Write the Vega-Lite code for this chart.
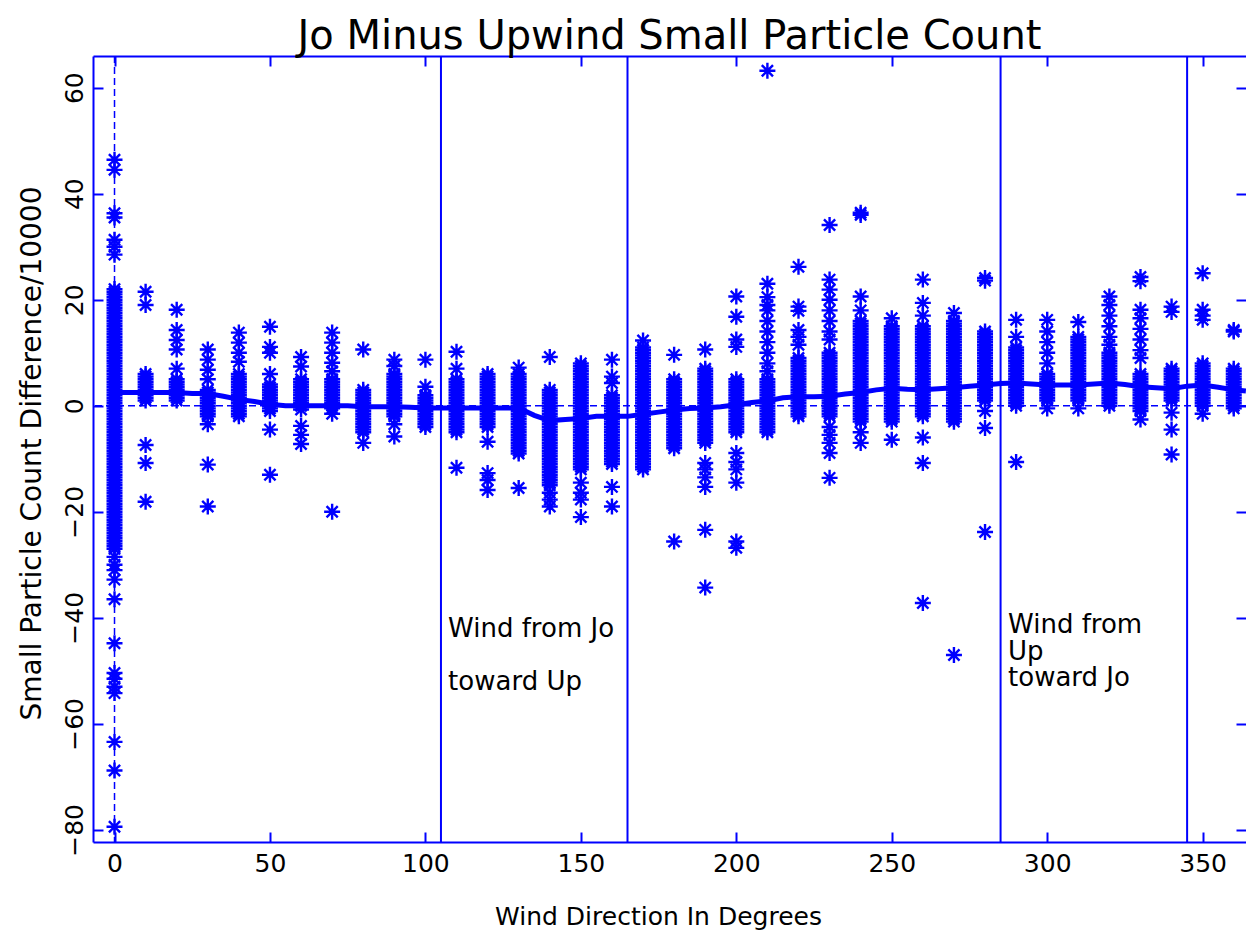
{
"$schema": "https://vega.github.io/schema/vega-lite/v6.json",
"width": 1153, "height": 786,
"autosize": {"type": "none"},
"padding": {"left": 93, "top": 56, "right": 0, "bottom": 90},
"background": "white",
"title": {"text": "Jo Minus Upwind Small Particle Count", "font": "DejaVu Sans", "fontSize": 40, "fontWeight": "normal", "color": "black", "offset": -2, "anchor": "middle"},
"config": {"view": {"stroke": null}, "axis": {"grid": false}},
"resolve": {"axis": {"x": "independent", "y": "independent"}},
"datasets": {
"pts": [
{"d":0,"v":22},{"d":0,"v":21},{"d":0,"v":20},{"d":0,"v":19},{"d":0,"v":18},{"d":0,"v":17},{"d":0,"v":16},{"d":0,"v":15},{"d":0,"v":14},{"d":0,"v":13},{"d":0,"v":12},{"d":0,"v":11},{"d":0,"v":10},{"d":0,"v":9},{"d":0,"v":8},{"d":0,"v":7},{"d":0,"v":6},{"d":0,"v":5},{"d":0,"v":4},{"d":0,"v":3},{"d":0,"v":2},{"d":0,"v":1},{"d":0,"v":0},{"d":0,"v":-1},{"d":0,"v":-2},{"d":0,"v":-3},{"d":0,"v":-4},{"d":0,"v":-5},{"d":0,"v":-6},{"d":0,"v":-7},{"d":0,"v":-8},{"d":0,"v":-9},{"d":0,"v":-10},{"d":0,"v":-11},{"d":0,"v":-12},{"d":0,"v":-13},{"d":0,"v":-14},{"d":0,"v":-15},{"d":0,"v":-16},{"d":0,"v":-17},{"d":0,"v":-18},{"d":0,"v":-19},{"d":0,"v":-20},{"d":0,"v":-21},{"d":0,"v":-22},{"d":0,"v":-23},{"d":0,"v":-24},{"d":0,"v":-25},{"d":0,"v":-26},{"d":0,"v":-27},
{"d":0,"v":46.4},{"d":0,"v":44.5},{"d":0,"v":36.3},{"d":0,"v":35.5},{"d":0,"v":31.3},{"d":0,"v":30},{"d":0,"v":28.5},{"d":0,"v":-28.5},{"d":0,"v":-30},{"d":0,"v":-31},{"d":0,"v":-32.8},{"d":0,"v":-36.5},{"d":0,"v":-44.8},{"d":0,"v":-50.4},{"d":0,"v":-51.5},{"d":0,"v":-53},{"d":0,"v":-54.2},{"d":0,"v":-63.4},{"d":0,"v":-68.8},{"d":0,"v":-79.4},
{"d":10,"v":6},{"d":10,"v":5},{"d":10,"v":4},{"d":10,"v":3},{"d":10,"v":2},{"d":10,"v":1},{"d":10,"v":21.5},{"d":10,"v":19},{"d":10,"v":-7.4},{"d":10,"v":-10.8},{"d":10,"v":-18.1},
{"d":20,"v":5},{"d":20,"v":4},{"d":20,"v":3},{"d":20,"v":2},{"d":20,"v":1},{"d":20,"v":18.1},{"d":20,"v":14.3},{"d":20,"v":12.4},{"d":20,"v":10.6},{"d":20,"v":7},
{"d":30,"v":3},{"d":30,"v":2},{"d":30,"v":1},{"d":30,"v":0},{"d":30,"v":-1},{"d":30,"v":-2},{"d":30,"v":10.6},{"d":30,"v":8.7},{"d":30,"v":6.8},{"d":30,"v":5},{"d":30,"v":-3.5},{"d":30,"v":-11.1},{"d":30,"v":-19},
{"d":40,"v":6},{"d":40,"v":5},{"d":40,"v":4},{"d":40,"v":3},{"d":40,"v":2},{"d":40,"v":1},{"d":40,"v":0},{"d":40,"v":-1},{"d":40,"v":-2},{"d":40,"v":13.8},{"d":40,"v":11.9},{"d":40,"v":10},{"d":40,"v":8.3},
{"d":50,"v":4},{"d":50,"v":3},{"d":50,"v":2},{"d":50,"v":1},{"d":50,"v":0},{"d":50,"v":-1},{"d":50,"v":14.9},{"d":50,"v":11.1},{"d":50,"v":10},{"d":50,"v":6},{"d":50,"v":-4.5},{"d":50,"v":-13},
{"d":60,"v":5},{"d":60,"v":4},{"d":60,"v":3},{"d":60,"v":2},{"d":60,"v":1},{"d":60,"v":0},{"d":60,"v":-0.7},{"d":60,"v":9.2},{"d":60,"v":7.4},{"d":60,"v":-3.8},{"d":60,"v":-5.5},{"d":60,"v":-7.2},
{"d":70,"v":5},{"d":70,"v":4},{"d":70,"v":3},{"d":70,"v":2},{"d":70,"v":1},{"d":70,"v":0},{"d":70,"v":-1.5},{"d":70,"v":13.8},{"d":70,"v":11.9},{"d":70,"v":10},{"d":70,"v":8.1},{"d":70,"v":6.5},{"d":70,"v":-20},
{"d":80,"v":3},{"d":80,"v":2},{"d":80,"v":1},{"d":80,"v":0},{"d":80,"v":-1},{"d":80,"v":-2},{"d":80,"v":-3},{"d":80,"v":-4},{"d":80,"v":-5},{"d":80,"v":10.6},{"d":80,"v":-7},
{"d":90,"v":6},{"d":90,"v":5},{"d":90,"v":4},{"d":90,"v":3},{"d":90,"v":2},{"d":90,"v":1},{"d":90,"v":0},{"d":90,"v":-1},{"d":90,"v":-2},{"d":90,"v":-3.5},{"d":90,"v":8.7},{"d":90,"v":7.5},{"d":90,"v":-5.8},
{"d":100,"v":2},{"d":100,"v":1},{"d":100,"v":0},{"d":100,"v":-1},{"d":100,"v":-2},{"d":100,"v":-3},{"d":100,"v":-4},{"d":100,"v":8.7},{"d":100,"v":3.6},
{"d":110,"v":5},{"d":110,"v":4},{"d":110,"v":3},{"d":110,"v":2},{"d":110,"v":1},{"d":110,"v":0},{"d":110,"v":-1},{"d":110,"v":-2},{"d":110,"v":-3},{"d":110,"v":-4},{"d":110,"v":-5},{"d":110,"v":10.2},{"d":110,"v":7},{"d":110,"v":-11.7},
{"d":120,"v":6},{"d":120,"v":5},{"d":120,"v":4},{"d":120,"v":3},{"d":120,"v":2},{"d":120,"v":1},{"d":120,"v":0},{"d":120,"v":-1},{"d":120,"v":-2},{"d":120,"v":-3},{"d":120,"v":-4},{"d":120,"v":-6.8},{"d":120,"v":-12.7},{"d":120,"v":-14},{"d":120,"v":-15.9},
{"d":130,"v":6},{"d":130,"v":5},{"d":130,"v":4},{"d":130,"v":3},{"d":130,"v":2},{"d":130,"v":1},{"d":130,"v":0},{"d":130,"v":-1},{"d":130,"v":-2},{"d":130,"v":-3},{"d":130,"v":-4},{"d":130,"v":-5},{"d":130,"v":-6},{"d":130,"v":-7},{"d":130,"v":-8},{"d":130,"v":-9},{"d":130,"v":7.2},{"d":130,"v":-15.5},
{"d":140,"v":3},{"d":140,"v":2},{"d":140,"v":1},{"d":140,"v":0},{"d":140,"v":-1},{"d":140,"v":-2},{"d":140,"v":-3},{"d":140,"v":-4},{"d":140,"v":-5},{"d":140,"v":-6},{"d":140,"v":-7},{"d":140,"v":-8},{"d":140,"v":-9},{"d":140,"v":-10},{"d":140,"v":-11},{"d":140,"v":-12},{"d":140,"v":-13},{"d":140,"v":-14},{"d":140,"v":-15},{"d":140,"v":9.2},{"d":140,"v":-16.4},{"d":140,"v":-17.7},{"d":140,"v":-19},
{"d":150,"v":8},{"d":150,"v":7},{"d":150,"v":6},{"d":150,"v":5},{"d":150,"v":4},{"d":150,"v":3},{"d":150,"v":2},{"d":150,"v":1},{"d":150,"v":0},{"d":150,"v":-1},{"d":150,"v":-2},{"d":150,"v":-3},{"d":150,"v":-4},{"d":150,"v":-5},{"d":150,"v":-6},{"d":150,"v":-7},{"d":150,"v":-8},{"d":150,"v":-9},{"d":150,"v":-10},{"d":150,"v":-11},{"d":150,"v":-12},{"d":150,"v":-14.5},{"d":150,"v":-16.4},{"d":150,"v":-17.7},{"d":150,"v":-21},
{"d":160,"v":2},{"d":160,"v":1},{"d":160,"v":0},{"d":160,"v":-1},{"d":160,"v":-2},{"d":160,"v":-3},{"d":160,"v":-4},{"d":160,"v":-5},{"d":160,"v":-6},{"d":160,"v":-7},{"d":160,"v":-8},{"d":160,"v":-9},{"d":160,"v":-10},{"d":160,"v":-11},{"d":160,"v":8.7},{"d":160,"v":5.5},{"d":160,"v":4.3},{"d":160,"v":-15.3},{"d":160,"v":-19},
{"d":170,"v":11},{"d":170,"v":10},{"d":170,"v":9},{"d":170,"v":8},{"d":170,"v":7},{"d":170,"v":6},{"d":170,"v":5},{"d":170,"v":4},{"d":170,"v":3},{"d":170,"v":2},{"d":170,"v":1},{"d":170,"v":0},{"d":170,"v":-1},{"d":170,"v":-2},{"d":170,"v":-3},{"d":170,"v":-4},{"d":170,"v":-5},{"d":170,"v":-6},{"d":170,"v":-7},{"d":170,"v":-8},{"d":170,"v":-9},{"d":170,"v":-10},{"d":170,"v":-11},{"d":170,"v":-12},{"d":170,"v":12.3},
{"d":180,"v":5},{"d":180,"v":4},{"d":180,"v":3},{"d":180,"v":2},{"d":180,"v":1},{"d":180,"v":0},{"d":180,"v":-1},{"d":180,"v":-2},{"d":180,"v":-3},{"d":180,"v":-4},{"d":180,"v":-5},{"d":180,"v":-6},{"d":180,"v":-7},{"d":180,"v":-8},{"d":180,"v":9.6},{"d":180,"v":-25.6},
{"d":190,"v":7},{"d":190,"v":6},{"d":190,"v":5},{"d":190,"v":4},{"d":190,"v":3},{"d":190,"v":2},{"d":190,"v":1},{"d":190,"v":0},{"d":190,"v":-1},{"d":190,"v":-2},{"d":190,"v":-3},{"d":190,"v":-4},{"d":190,"v":-5},{"d":190,"v":-6},{"d":190,"v":-7},{"d":190,"v":10.6},{"d":190,"v":-10.8},{"d":190,"v":-12},{"d":190,"v":-13.5},{"d":190,"v":-15.3},{"d":190,"v":-23.4},{"d":190,"v":-34.3},
{"d":200,"v":5},{"d":200,"v":4},{"d":200,"v":3},{"d":200,"v":2},{"d":200,"v":1},{"d":200,"v":0},{"d":200,"v":-1},{"d":200,"v":-2},{"d":200,"v":-3},{"d":200,"v":-4},{"d":200,"v":-5},{"d":200,"v":20.6},{"d":200,"v":16.8},{"d":200,"v":12.5},{"d":200,"v":11.1},{"d":200,"v":-8.9},{"d":200,"v":-10.6},{"d":200,"v":-12},{"d":200,"v":-14.5},{"d":200,"v":-25.6},{"d":200,"v":-26.8},
{"d":210,"v":5},{"d":210,"v":4},{"d":210,"v":3},{"d":210,"v":2},{"d":210,"v":1},{"d":210,"v":0},{"d":210,"v":-1},{"d":210,"v":-2},{"d":210,"v":-3},{"d":210,"v":-4},{"d":210,"v":-5},{"d":210,"v":63.2},{"d":210,"v":23},{"d":210,"v":20.5},{"d":210,"v":19},{"d":210,"v":18},{"d":210,"v":16},{"d":210,"v":14},{"d":210,"v":12},{"d":210,"v":10},{"d":210,"v":8},{"d":210,"v":6.5},
{"d":220,"v":9},{"d":220,"v":8},{"d":220,"v":7},{"d":220,"v":6},{"d":220,"v":5},{"d":220,"v":4},{"d":220,"v":3},{"d":220,"v":2},{"d":220,"v":1},{"d":220,"v":0},{"d":220,"v":-1},{"d":220,"v":-2},{"d":220,"v":26.2},{"d":220,"v":18.7},{"d":220,"v":17.9},{"d":220,"v":14.3},{"d":220,"v":13},{"d":220,"v":11.5},
{"d":230,"v":10},{"d":230,"v":9},{"d":230,"v":8},{"d":230,"v":7},{"d":230,"v":6},{"d":230,"v":5},{"d":230,"v":4},{"d":230,"v":3},{"d":230,"v":2},{"d":230,"v":1},{"d":230,"v":0},{"d":230,"v":-1},{"d":230,"v":-2},{"d":230,"v":34.1},{"d":230,"v":23.8},{"d":230,"v":21.9},{"d":230,"v":20},{"d":230,"v":18},{"d":230,"v":16},{"d":230,"v":14},{"d":230,"v":12.5},{"d":230,"v":-4},{"d":230,"v":-5.5},{"d":230,"v":-7},{"d":230,"v":-8.9},{"d":230,"v":-13.6},
{"d":240,"v":16},{"d":240,"v":15},{"d":240,"v":14},{"d":240,"v":13},{"d":240,"v":12},{"d":240,"v":11},{"d":240,"v":10},{"d":240,"v":9},{"d":240,"v":8},{"d":240,"v":7},{"d":240,"v":6},{"d":240,"v":5},{"d":240,"v":4},{"d":240,"v":3},{"d":240,"v":2},{"d":240,"v":1},{"d":240,"v":0},{"d":240,"v":-1},{"d":240,"v":-2},{"d":240,"v":-3},{"d":240,"v":36.4},{"d":240,"v":36},{"d":240,"v":20.6},{"d":240,"v":18},{"d":240,"v":-5},{"d":240,"v":-7},
{"d":250,"v":15},{"d":250,"v":14},{"d":250,"v":13},{"d":250,"v":12},{"d":250,"v":11},{"d":250,"v":10},{"d":250,"v":9},{"d":250,"v":8},{"d":250,"v":7},{"d":250,"v":6},{"d":250,"v":5},{"d":250,"v":4},{"d":250,"v":3},{"d":250,"v":2},{"d":250,"v":1},{"d":250,"v":0},{"d":250,"v":-1},{"d":250,"v":-2},{"d":250,"v":-3},{"d":250,"v":16.5},{"d":250,"v":-6.4},
{"d":260,"v":15},{"d":260,"v":14},{"d":260,"v":13},{"d":260,"v":12},{"d":260,"v":11},{"d":260,"v":10},{"d":260,"v":9},{"d":260,"v":8},{"d":260,"v":7},{"d":260,"v":6},{"d":260,"v":5},{"d":260,"v":4},{"d":260,"v":3},{"d":260,"v":2},{"d":260,"v":1},{"d":260,"v":0},{"d":260,"v":-1},{"d":260,"v":-2},{"d":260,"v":23.8},{"d":260,"v":19.4},{"d":260,"v":17},{"d":260,"v":-6},{"d":260,"v":-10.8},{"d":260,"v":-37.2},
{"d":270,"v":16},{"d":270,"v":15},{"d":270,"v":14},{"d":270,"v":13},{"d":270,"v":12},{"d":270,"v":11},{"d":270,"v":10},{"d":270,"v":9},{"d":270,"v":8},{"d":270,"v":7},{"d":270,"v":6},{"d":270,"v":5},{"d":270,"v":4},{"d":270,"v":3},{"d":270,"v":2},{"d":270,"v":1},{"d":270,"v":0},{"d":270,"v":-1},{"d":270,"v":-2},{"d":270,"v":-3},{"d":270,"v":17.5},{"d":270,"v":-47},
{"d":280,"v":14},{"d":280,"v":13},{"d":280,"v":12},{"d":280,"v":11},{"d":280,"v":10},{"d":280,"v":9},{"d":280,"v":8},{"d":280,"v":7},{"d":280,"v":6},{"d":280,"v":5},{"d":280,"v":4},{"d":280,"v":3},{"d":280,"v":2},{"d":280,"v":1},{"d":280,"v":24.1},{"d":280,"v":23.6},{"d":280,"v":-1},{"d":280,"v":-4.2},{"d":280,"v":-23.8},
{"d":290,"v":11},{"d":290,"v":10},{"d":290,"v":9},{"d":290,"v":8},{"d":290,"v":7},{"d":290,"v":6},{"d":290,"v":5},{"d":290,"v":4},{"d":290,"v":3},{"d":290,"v":2},{"d":290,"v":1},{"d":290,"v":0},{"d":290,"v":16.2},{"d":290,"v":13},{"d":290,"v":-10.6},
{"d":300,"v":6},{"d":300,"v":5},{"d":300,"v":4},{"d":300,"v":3},{"d":300,"v":2},{"d":300,"v":1},{"d":300,"v":16.2},{"d":300,"v":14},{"d":300,"v":12},{"d":300,"v":10},{"d":300,"v":8},{"d":300,"v":-0.5},
{"d":310,"v":13},{"d":310,"v":12},{"d":310,"v":11},{"d":310,"v":10},{"d":310,"v":9},{"d":310,"v":8},{"d":310,"v":7},{"d":310,"v":6},{"d":310,"v":5},{"d":310,"v":4},{"d":310,"v":3},{"d":310,"v":2},{"d":310,"v":1},{"d":310,"v":15.8},{"d":310,"v":-0.5},
{"d":320,"v":10},{"d":320,"v":9},{"d":320,"v":8},{"d":320,"v":7},{"d":320,"v":6},{"d":320,"v":5},{"d":320,"v":4},{"d":320,"v":3},{"d":320,"v":2},{"d":320,"v":1},{"d":320,"v":0},{"d":320,"v":20.6},{"d":320,"v":19},{"d":320,"v":17},{"d":320,"v":15},{"d":320,"v":13},{"d":320,"v":11.5},
{"d":330,"v":6},{"d":330,"v":5},{"d":330,"v":4},{"d":330,"v":3},{"d":330,"v":2},{"d":330,"v":1},{"d":330,"v":0},{"d":330,"v":-1},{"d":330,"v":24.3},{"d":330,"v":23.5},{"d":330,"v":18.1},{"d":330,"v":16.5},{"d":330,"v":14.5},{"d":330,"v":12.5},{"d":330,"v":10.5},{"d":330,"v":9},{"d":330,"v":-2.6},
{"d":340,"v":7},{"d":340,"v":6},{"d":340,"v":5},{"d":340,"v":4},{"d":340,"v":3},{"d":340,"v":2},{"d":340,"v":1},{"d":340,"v":18.7},{"d":340,"v":17.7},{"d":340,"v":-1.3},{"d":340,"v":-4.5},{"d":340,"v":-9.2},
{"d":350,"v":8},{"d":350,"v":7},{"d":350,"v":6},{"d":350,"v":5},{"d":350,"v":4},{"d":350,"v":3},{"d":350,"v":2},{"d":350,"v":1},{"d":350,"v":0},{"d":350,"v":25},{"d":350,"v":18.1},{"d":350,"v":17},{"d":350,"v":16.2},{"d":350,"v":-1.5},
{"d":360,"v":7},{"d":360,"v":6},{"d":360,"v":5},{"d":360,"v":4},{"d":360,"v":3},{"d":360,"v":2},{"d":360,"v":1},{"d":360,"v":0},{"d":360,"v":14.3},{"d":360,"v":14},{"d":360,"v":-0.5},
{"d":0,"v":21.5},{"d":0,"v":20.5},{"d":0,"v":19.5},{"d":0,"v":18.5},{"d":0,"v":17.5},{"d":0,"v":16.5},{"d":0,"v":15.5},{"d":0,"v":14.5},{"d":0,"v":13.5},{"d":0,"v":12.5},{"d":0,"v":11.5},{"d":0,"v":10.5},{"d":0,"v":9.5},{"d":0,"v":8.5},{"d":0,"v":7.5},{"d":0,"v":6.5},{"d":0,"v":5.5},{"d":0,"v":4.5},{"d":0,"v":3.5},{"d":0,"v":2.5},{"d":0,"v":1.5},{"d":0,"v":0.5},{"d":0,"v":-0.5},{"d":0,"v":-1.5},{"d":0,"v":-2.5},{"d":0,"v":-3.5},{"d":0,"v":-4.5},{"d":0,"v":-5.5},{"d":0,"v":-6.5},{"d":0,"v":-7.5},{"d":0,"v":-8.5},{"d":0,"v":-9.5},{"d":0,"v":-10.5},{"d":0,"v":-11.5},{"d":0,"v":-12.5},{"d":0,"v":-13.5},{"d":0,"v":-14.5},{"d":0,"v":-15.5},{"d":0,"v":-16.5},{"d":0,"v":-17.5},{"d":0,"v":-18.5},{"d":0,"v":-19.5},{"d":0,"v":-20.5},{"d":0,"v":-21.5},{"d":0,"v":-22.5},{"d":0,"v":-23.5},{"d":0,"v":-24.5},{"d":0,"v":-25.5},{"d":0,"v":-26.5},
{"d":10,"v":5.5},{"d":10,"v":4.5},{"d":10,"v":3.5},{"d":10,"v":2.5},{"d":10,"v":1.5},
{"d":20,"v":4.5},{"d":20,"v":3.5},{"d":20,"v":2.5},{"d":20,"v":1.5},
{"d":30,"v":2.5},{"d":30,"v":1.5},{"d":30,"v":0.5},{"d":30,"v":-0.5},{"d":30,"v":-1.5},
{"d":40,"v":5.5},{"d":40,"v":4.5},{"d":40,"v":3.5},{"d":40,"v":2.5},{"d":40,"v":1.5},{"d":40,"v":0.5},{"d":40,"v":-0.5},{"d":40,"v":-1.5},
{"d":50,"v":3.5},{"d":50,"v":2.5},{"d":50,"v":1.5},{"d":50,"v":0.5},{"d":50,"v":-0.5},
{"d":60,"v":4.5},{"d":60,"v":3.5},{"d":60,"v":2.5},{"d":60,"v":1.5},{"d":60,"v":0.5},
{"d":70,"v":4.5},{"d":70,"v":3.5},{"d":70,"v":2.5},{"d":70,"v":1.5},{"d":70,"v":0.5},{"d":70,"v":-0.5},
{"d":80,"v":2.5},{"d":80,"v":1.5},{"d":80,"v":0.5},{"d":80,"v":-0.5},{"d":80,"v":-1.5},{"d":80,"v":-2.5},{"d":80,"v":-3.5},{"d":80,"v":-4.5},
{"d":90,"v":5.5},{"d":90,"v":4.5},{"d":90,"v":3.5},{"d":90,"v":2.5},{"d":90,"v":1.5},{"d":90,"v":0.5},{"d":90,"v":-0.5},{"d":90,"v":-1.5},
{"d":100,"v":1.5},{"d":100,"v":0.5},{"d":100,"v":-0.5},{"d":100,"v":-1.5},{"d":100,"v":-2.5},{"d":100,"v":-3.5},
{"d":110,"v":4.5},{"d":110,"v":3.5},{"d":110,"v":2.5},{"d":110,"v":1.5},{"d":110,"v":0.5},{"d":110,"v":-0.5},{"d":110,"v":-1.5},{"d":110,"v":-2.5},{"d":110,"v":-3.5},{"d":110,"v":-4.5},
{"d":120,"v":5.5},{"d":120,"v":4.5},{"d":120,"v":3.5},{"d":120,"v":2.5},{"d":120,"v":1.5},{"d":120,"v":0.5},{"d":120,"v":-0.5},{"d":120,"v":-1.5},{"d":120,"v":-2.5},{"d":120,"v":-3.5},
{"d":130,"v":5.5},{"d":130,"v":4.5},{"d":130,"v":3.5},{"d":130,"v":2.5},{"d":130,"v":1.5},{"d":130,"v":0.5},{"d":130,"v":-0.5},{"d":130,"v":-1.5},{"d":130,"v":-2.5},{"d":130,"v":-3.5},{"d":130,"v":-4.5},{"d":130,"v":-5.5},{"d":130,"v":-6.5},{"d":130,"v":-7.5},{"d":130,"v":-8.5},
{"d":140,"v":2.5},{"d":140,"v":1.5},{"d":140,"v":0.5},{"d":140,"v":-0.5},{"d":140,"v":-1.5},{"d":140,"v":-2.5},{"d":140,"v":-3.5},{"d":140,"v":-4.5},{"d":140,"v":-5.5},{"d":140,"v":-6.5},{"d":140,"v":-7.5},{"d":140,"v":-8.5},{"d":140,"v":-9.5},{"d":140,"v":-10.5},{"d":140,"v":-11.5},{"d":140,"v":-12.5},{"d":140,"v":-13.5},{"d":140,"v":-14.5},
{"d":150,"v":7.5},{"d":150,"v":6.5},{"d":150,"v":5.5},{"d":150,"v":4.5},{"d":150,"v":3.5},{"d":150,"v":2.5},{"d":150,"v":1.5},{"d":150,"v":0.5},{"d":150,"v":-0.5},{"d":150,"v":-1.5},{"d":150,"v":-2.5},{"d":150,"v":-3.5},{"d":150,"v":-4.5},{"d":150,"v":-5.5},{"d":150,"v":-6.5},{"d":150,"v":-7.5},{"d":150,"v":-8.5},{"d":150,"v":-9.5},{"d":150,"v":-10.5},{"d":150,"v":-11.5},
{"d":160,"v":1.5},{"d":160,"v":0.5},{"d":160,"v":-0.5},{"d":160,"v":-1.5},{"d":160,"v":-2.5},{"d":160,"v":-3.5},{"d":160,"v":-4.5},{"d":160,"v":-5.5},{"d":160,"v":-6.5},{"d":160,"v":-7.5},{"d":160,"v":-8.5},{"d":160,"v":-9.5},{"d":160,"v":-10.5},
{"d":170,"v":10.5},{"d":170,"v":9.5},{"d":170,"v":8.5},{"d":170,"v":7.5},{"d":170,"v":6.5},{"d":170,"v":5.5},{"d":170,"v":4.5},{"d":170,"v":3.5},{"d":170,"v":2.5},{"d":170,"v":1.5},{"d":170,"v":0.5},{"d":170,"v":-0.5},{"d":170,"v":-1.5},{"d":170,"v":-2.5},{"d":170,"v":-3.5},{"d":170,"v":-4.5},{"d":170,"v":-5.5},{"d":170,"v":-6.5},{"d":170,"v":-7.5},{"d":170,"v":-8.5},{"d":170,"v":-9.5},{"d":170,"v":-10.5},{"d":170,"v":-11.5},
{"d":180,"v":4.5},{"d":180,"v":3.5},{"d":180,"v":2.5},{"d":180,"v":1.5},{"d":180,"v":0.5},{"d":180,"v":-0.5},{"d":180,"v":-1.5},{"d":180,"v":-2.5},{"d":180,"v":-3.5},{"d":180,"v":-4.5},{"d":180,"v":-5.5},{"d":180,"v":-6.5},{"d":180,"v":-7.5},
{"d":190,"v":6.5},{"d":190,"v":5.5},{"d":190,"v":4.5},{"d":190,"v":3.5},{"d":190,"v":2.5},{"d":190,"v":1.5},{"d":190,"v":0.5},{"d":190,"v":-0.5},{"d":190,"v":-1.5},{"d":190,"v":-2.5},{"d":190,"v":-3.5},{"d":190,"v":-4.5},{"d":190,"v":-5.5},{"d":190,"v":-6.5},
{"d":200,"v":4.5},{"d":200,"v":3.5},{"d":200,"v":2.5},{"d":200,"v":1.5},{"d":200,"v":0.5},{"d":200,"v":-0.5},{"d":200,"v":-1.5},{"d":200,"v":-2.5},{"d":200,"v":-3.5},{"d":200,"v":-4.5},
{"d":210,"v":4.5},{"d":210,"v":3.5},{"d":210,"v":2.5},{"d":210,"v":1.5},{"d":210,"v":0.5},{"d":210,"v":-0.5},{"d":210,"v":-1.5},{"d":210,"v":-2.5},{"d":210,"v":-3.5},{"d":210,"v":-4.5},
{"d":220,"v":8.5},{"d":220,"v":7.5},{"d":220,"v":6.5},{"d":220,"v":5.5},{"d":220,"v":4.5},{"d":220,"v":3.5},{"d":220,"v":2.5},{"d":220,"v":1.5},{"d":220,"v":0.5},{"d":220,"v":-0.5},{"d":220,"v":-1.5},
{"d":230,"v":9.5},{"d":230,"v":8.5},{"d":230,"v":7.5},{"d":230,"v":6.5},{"d":230,"v":5.5},{"d":230,"v":4.5},{"d":230,"v":3.5},{"d":230,"v":2.5},{"d":230,"v":1.5},{"d":230,"v":0.5},{"d":230,"v":-0.5},{"d":230,"v":-1.5},
{"d":240,"v":15.5},{"d":240,"v":14.5},{"d":240,"v":13.5},{"d":240,"v":12.5},{"d":240,"v":11.5},{"d":240,"v":10.5},{"d":240,"v":9.5},{"d":240,"v":8.5},{"d":240,"v":7.5},{"d":240,"v":6.5},{"d":240,"v":5.5},{"d":240,"v":4.5},{"d":240,"v":3.5},{"d":240,"v":2.5},{"d":240,"v":1.5},{"d":240,"v":0.5},{"d":240,"v":-0.5},{"d":240,"v":-1.5},{"d":240,"v":-2.5},
{"d":250,"v":14.5},{"d":250,"v":13.5},{"d":250,"v":12.5},{"d":250,"v":11.5},{"d":250,"v":10.5},{"d":250,"v":9.5},{"d":250,"v":8.5},{"d":250,"v":7.5},{"d":250,"v":6.5},{"d":250,"v":5.5},{"d":250,"v":4.5},{"d":250,"v":3.5},{"d":250,"v":2.5},{"d":250,"v":1.5},{"d":250,"v":0.5},{"d":250,"v":-0.5},{"d":250,"v":-1.5},{"d":250,"v":-2.5},
{"d":260,"v":14.5},{"d":260,"v":13.5},{"d":260,"v":12.5},{"d":260,"v":11.5},{"d":260,"v":10.5},{"d":260,"v":9.5},{"d":260,"v":8.5},{"d":260,"v":7.5},{"d":260,"v":6.5},{"d":260,"v":5.5},{"d":260,"v":4.5},{"d":260,"v":3.5},{"d":260,"v":2.5},{"d":260,"v":1.5},{"d":260,"v":0.5},{"d":260,"v":-0.5},{"d":260,"v":-1.5},
{"d":270,"v":15.5},{"d":270,"v":14.5},{"d":270,"v":13.5},{"d":270,"v":12.5},{"d":270,"v":11.5},{"d":270,"v":10.5},{"d":270,"v":9.5},{"d":270,"v":8.5},{"d":270,"v":7.5},{"d":270,"v":6.5},{"d":270,"v":5.5},{"d":270,"v":4.5},{"d":270,"v":3.5},{"d":270,"v":2.5},{"d":270,"v":1.5},{"d":270,"v":0.5},{"d":270,"v":-0.5},{"d":270,"v":-1.5},{"d":270,"v":-2.5},
{"d":280,"v":13.5},{"d":280,"v":12.5},{"d":280,"v":11.5},{"d":280,"v":10.5},{"d":280,"v":9.5},{"d":280,"v":8.5},{"d":280,"v":7.5},{"d":280,"v":6.5},{"d":280,"v":5.5},{"d":280,"v":4.5},{"d":280,"v":3.5},{"d":280,"v":2.5},{"d":280,"v":1.5},
{"d":290,"v":10.5},{"d":290,"v":9.5},{"d":290,"v":8.5},{"d":290,"v":7.5},{"d":290,"v":6.5},{"d":290,"v":5.5},{"d":290,"v":4.5},{"d":290,"v":3.5},{"d":290,"v":2.5},{"d":290,"v":1.5},{"d":290,"v":0.5},
{"d":300,"v":5.5},{"d":300,"v":4.5},{"d":300,"v":3.5},{"d":300,"v":2.5},{"d":300,"v":1.5},
{"d":310,"v":12.5},{"d":310,"v":11.5},{"d":310,"v":10.5},{"d":310,"v":9.5},{"d":310,"v":8.5},{"d":310,"v":7.5},{"d":310,"v":6.5},{"d":310,"v":5.5},{"d":310,"v":4.5},{"d":310,"v":3.5},{"d":310,"v":2.5},{"d":310,"v":1.5},
{"d":320,"v":9.5},{"d":320,"v":8.5},{"d":320,"v":7.5},{"d":320,"v":6.5},{"d":320,"v":5.5},{"d":320,"v":4.5},{"d":320,"v":3.5},{"d":320,"v":2.5},{"d":320,"v":1.5},{"d":320,"v":0.5},
{"d":330,"v":5.5},{"d":330,"v":4.5},{"d":330,"v":3.5},{"d":330,"v":2.5},{"d":330,"v":1.5},{"d":330,"v":0.5},{"d":330,"v":-0.5},
{"d":340,"v":6.5},{"d":340,"v":5.5},{"d":340,"v":4.5},{"d":340,"v":3.5},{"d":340,"v":2.5},{"d":340,"v":1.5},
{"d":350,"v":7.5},{"d":350,"v":6.5},{"d":350,"v":5.5},{"d":350,"v":4.5},{"d":350,"v":3.5},{"d":350,"v":2.5},{"d":350,"v":1.5},{"d":350,"v":0.5},
{"d":360,"v":6.5},{"d":360,"v":5.5},{"d":360,"v":4.5},{"d":360,"v":3.5},{"d":360,"v":2.5},{"d":360,"v":1.5},{"d":360,"v":0.5}
],
"smooth": [
{"d":0,"v":2.5},{"d":5,"v":2.5},{"d":10,"v":2.5},{"d":15,"v":2.5},{"d":20,"v":2.5},{"d":25,"v":2.3},{"d":30,"v":2.3},{"d":35,"v":1.8},{"d":40,"v":1.2},{"d":45,"v":0.8},{"d":50,"v":0.3},{"d":55,"v":0},{"d":60,"v":0},{"d":65,"v":0},{"d":70,"v":0},{"d":75,"v":0},{"d":80,"v":-0.2},{"d":85,"v":-0.2},{"d":90,"v":-0.2},{"d":95,"v":-0.3},{"d":100,"v":-0.4},{"d":105,"v":-0.4},{"d":110,"v":-0.4},{"d":115,"v":-0.4},{"d":120,"v":-0.4},{"d":125,"v":-0.4},{"d":130,"v":-0.4},{"d":135,"v":-1.8},{"d":140,"v":-2.8},{"d":145,"v":-2.6},{"d":150,"v":-2.4},{"d":155,"v":-2.0},{"d":160,"v":-2.0},{"d":165,"v":-2.0},{"d":170,"v":-1.6},{"d":175,"v":-1.2},{"d":180,"v":-0.8},{"d":185,"v":-0.5},{"d":190,"v":-0.4},{"d":195,"v":-0.2},{"d":200,"v":0.2},{"d":205,"v":0.6},{"d":210,"v":0.9},{"d":215,"v":1.5},{"d":220,"v":1.7},{"d":225,"v":1.7},{"d":230,"v":1.8},{"d":235,"v":2.2},{"d":240,"v":2.5},{"d":245,"v":3.0},{"d":250,"v":3.3},{"d":255,"v":3.1},{"d":260,"v":3.0},{"d":265,"v":3.2},{"d":270,"v":3.4},{"d":275,"v":3.7},{"d":280,"v":3.9},{"d":285,"v":4.2},{"d":290,"v":4.3},{"d":295,"v":4.1},{"d":300,"v":3.9},{"d":305,"v":3.9},{"d":310,"v":3.9},{"d":315,"v":4.1},{"d":320,"v":4.3},{"d":325,"v":4.0},{"d":330,"v":3.6},{"d":335,"v":3.4},{"d":340,"v":3.2},{"d":345,"v":3.7},{"d":350,"v":3.9},{"d":355,"v":3.5},{"d":360,"v":3.0},{"d":363.9,"v":2.8}
],
"vl": [{"d":105},{"d":165},{"d":285},{"d":345}],
"notes": [
{"d":107.3,"v":-43.6,"t":"Wind from Jo"},
{"d":107.3,"v":-53.6,"t":"toward Up"},
{"d":287.4,"v":-42.95,"t":"Wind from"},
{"d":287.4,"v":-47.94,"t":"Up"},
{"d":287.4,"v":-52.94,"t":"toward Jo"}
]
},
"layer": [
{"data": {"values": [{"v": 0}]},
 "mark": {"type": "rule", "color": "#0000FF", "strokeWidth": 1.5, "strokeDash": [7, 4]},
 "encoding": {"y": {"field": "v", "type": "quantitative", "scale": {"domain": [-82.28, 65.97], "nice": false, "zero": false}, "axis": null}}},
{"data": {"values": [{"d": 0}]},
 "mark": {"type": "rule", "color": "#0000FF", "strokeWidth": 1.5, "strokeDash": [7, 4]},
 "encoding": {"x": {"field": "d", "type": "quantitative", "scale": {"domain": [-6.92, 363.94], "nice": false, "zero": false}, "axis": null}}},
{"data": {"name": "vl"},
 "mark": {"type": "rule", "color": "#0000FF", "strokeWidth": 2},
 "encoding": {"x": {"field": "d", "type": "quantitative", "scale": {"domain": [-6.92, 363.94], "nice": false, "zero": false}, "axis": null}}},
{"data": {"name": "pts"},
 "mark": {"type": "point", "shape": "M-1,0L1,0M0,-1L0,1M-0.7,-0.7L0.7,0.7M-0.7,0.7L0.7,-0.7", "size": 256, "filled": false, "color": "#0000FF", "strokeWidth": 2.4, "opacity": 1},
 "encoding": {
  "x": {"field": "d", "type": "quantitative", "scale": {"domain": [-6.92, 363.94], "nice": false, "zero": false},
        "axis": {"orient": "bottom", "values": [0, 50, 100, 150, 200, 250, 300, 350], "tickSize": -10, "tickWidth": 2, "tickColor": "#0000FF", "domainColor": "#0000FF", "domainWidth": 2,
                 "labelFont": "DejaVu Sans", "labelFontSize": 25, "labelColor": "black", "labelBaseline": "top", "labelPadding": 19, "labelFlush": false,
                 "title": "Wind Direction In Degrees", "titleFont": "DejaVu Sans", "titleFontSize": 25, "titleFontWeight": "normal", "titleColor": "black", "titleBaseline": "alphabetic", "titleX": 565, "titleY": 82}},
  "y": {"field": "v", "type": "quantitative", "scale": {"domain": [-82.28, 65.97], "nice": false, "zero": false},
        "axis": {"orient": "left", "values": [-80, -60, -40, -20, 0, 20, 40, 60], "tickSize": -10, "tickWidth": 2, "tickColor": "#0000FF", "domainColor": "#0000FF", "domainWidth": 2,
                 "labelFont": "DejaVu Sans", "labelFontSize": 25, "labelColor": "black", "labelAngle": -90, "labelAlign": "center", "labelBaseline": "alphabetic", "labelPadding": 21, "labelFlush": false,
                 "title": "Small Particle Count Difference/10000", "titleFont": "DejaVu Sans", "titleFontSize": 28, "titleFontWeight": "normal", "titleColor": "black", "titleAngle": -90, "titleBaseline": "alphabetic", "titleAlign": "center", "titleX": -53, "titleY": 397}}
 }},
{"data": {"name": "smooth"},
 "mark": {"type": "line", "color": "#0000FF", "strokeWidth": 5},
 "encoding": {
  "x": {"field": "d", "type": "quantitative", "scale": {"domain": [-6.92, 363.94], "nice": false, "zero": false},
        "axis": {"orient": "top", "values": [0, 50, 100, 150, 200, 250, 300, 350], "tickSize": -10, "tickWidth": 2, "tickColor": "#0000FF", "domainColor": "#0000FF", "domainWidth": 2, "labels": false, "title": null}},
  "y": {"field": "v", "type": "quantitative", "scale": {"domain": [-82.28, 65.97], "nice": false, "zero": false},
        "axis": {"orient": "right", "values": [-80, -60, -40, -20, 0, 20, 40, 60], "tickSize": -10, "tickWidth": 2, "tickColor": "#0000FF", "domain": false, "labels": false, "title": null}}
 }},
{"data": {"name": "notes"},
 "mark": {"type": "text", "align": "left", "baseline": "alphabetic", "font": "DejaVu Sans", "fontSize": 26, "color": "black"},
 "encoding": {
  "x": {"field": "d", "type": "quantitative", "scale": {"domain": [-6.92, 363.94], "nice": false, "zero": false}, "axis": null},
  "y": {"field": "v", "type": "quantitative", "scale": {"domain": [-82.28, 65.97], "nice": false, "zero": false}, "axis": null},
  "text": {"field": "t"}
 }}
]
}
